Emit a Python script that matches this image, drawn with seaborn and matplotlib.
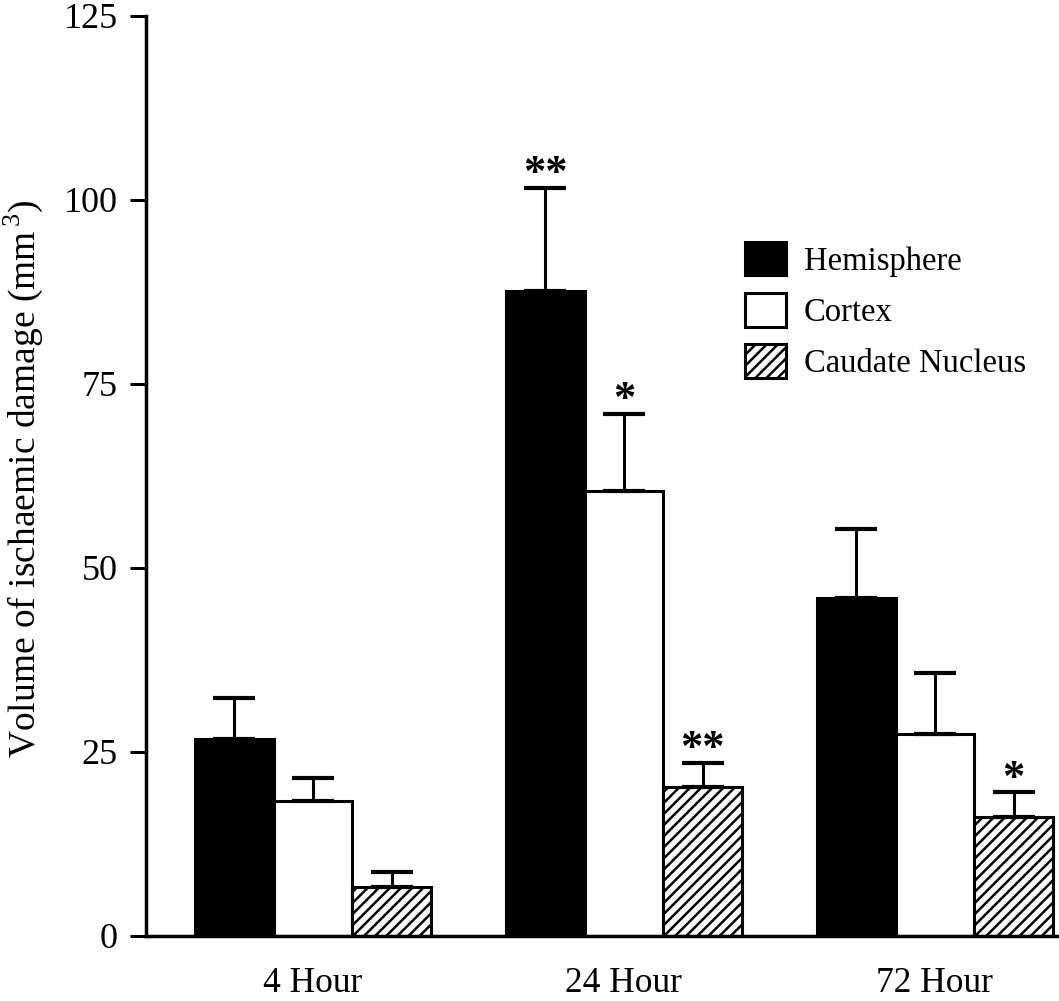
import matplotlib
matplotlib.use("Agg")
import matplotlib.pyplot as plt
from matplotlib.patches import Patch
import pandas as pd
import seaborn as sns

# Infarct volume by time point and brain region (mean with SEM)
time_points = ["4 Hour", "24 Hour", "72 Hour"]
regions = ["Hemisphere", "Cortex", "Caudate Nucleus"]

hemisphere = [26.7, 87.6, 45.9]
hemisphere_sem = [5.7, 14.0, 9.4]
cortex = [18.3, 60.4, 27.4]
cortex_sem = [3.2, 10.5, 8.3]
caudate = [6.6, 20.3, 16.2]
caudate_sem = [2.1, 3.2, 3.3]

# Significance markers placed above each bar
hemisphere_sig = ["", "**", ""]
cortex_sig = ["", "*", ""]
caudate_sig = ["", "**", "*"]

y_ticks = [0, 25, 50, 75, 100, 125]

sns.set_theme(style="ticks")
plt.rcParams["font.family"] = ["Liberation Serif", "DejaVu Serif"]
plt.rcParams["mathtext.fontset"] = "custom"
plt.rcParams["mathtext.rm"] = "Liberation Serif"
plt.rcParams["hatch.linewidth"] = 1.8
plt.rcParams["hatch.color"] = "black"
plt.rcParams["text.color"] = "black"
plt.rcParams["axes.labelcolor"] = "black"
plt.rcParams["xtick.color"] = "black"
plt.rcParams["ytick.color"] = "black"

rows = []
for region, values in zip(regions, [hemisphere, cortex, caudate]):
    for t, v in zip(time_points, values):
        rows.append({"time": t, "region": region, "volume": v})
df = pd.DataFrame(rows)

fig = plt.figure(figsize=(10.59, 10.01), dpi=100)
ax = fig.add_axes([146 / 1059, 1 - 936 / 1001, 1 - 146 / 1059, 920 / 1001])

palette = {"Hemisphere": "black", "Cortex": "white", "Caudate Nucleus": "white"}
sns.barplot(data=df, x="time", y="volume", hue="region", order=time_points,
            hue_order=regions, palette=palette, edgecolor="black", linewidth=2.2,
            width=0.76, errorbar=None, saturation=1, legend=False, ax=ax)

hatches = ["", "", "///"]
sems = [hemisphere_sem, cortex_sem, caudate_sem]
sigs = [hemisphere_sig, cortex_sig, caudate_sig]
for container, hatch, sem, sig in zip(ax.containers, hatches, sems, sigs):
    for bar, s, mark in zip(container, sem, sig):
        if hatch:
            bar.set_hatch(hatch)
        x = bar.get_x() + bar.get_width() / 2
        h = bar.get_height()
        ax.errorbar(x, h, yerr=[[0], [s]], fmt="none", ecolor="black",
                    elinewidth=2.2, capsize=15, capthick=3, zorder=3)
        if mark:
            ax.text(x, h + s + 0.4, mark, ha="center", va="baseline",
                    fontsize=32, fontweight="bold")

ax.set_xlim(-0.537, 2.399)
ax.set_ylim(0, 125)
ax.set_yticks(y_ticks)
ax.set_yticklabels([str(v) for v in y_ticks])

sns.despine(ax=ax, top=True, right=True)
ax.spines["left"].set_bounds(0, 125)
for side in ["left", "bottom"]:
    ax.spines[side].set_linewidth(2.5)
    ax.spines[side].set_color("black")

ax.tick_params(axis="y", length=11.5, width=2.2, pad=9, labelsize=26)
ax.tick_params(axis="x", length=0, pad=22, labelsize=25.5)
ax.set_xlabel("")
ax.set_ylabel("Volume of ischaemic damage (mm$^{\\,3}$)", fontsize=27)
ax.yaxis.set_label_coords(-0.111, 0.497)

handles = [
    Patch(facecolor="black", edgecolor="black", linewidth=2.2),
    Patch(facecolor="white", edgecolor="black", linewidth=2.2),
    Patch(facecolor="white", edgecolor="black", linewidth=2.2, hatch="///"),
]
fig.legend(handles, regions, loc="upper left",
           bbox_to_anchor=(745 / 1059, 1 - 242 / 1001), frameon=False,
           fontsize=23.5, handlelength=1.25, handleheight=1.2,
           handletextpad=0.55, labelspacing=0.5, borderpad=0, borderaxespad=0)

fig.savefig("out.png", dpi=100, facecolor="white")
